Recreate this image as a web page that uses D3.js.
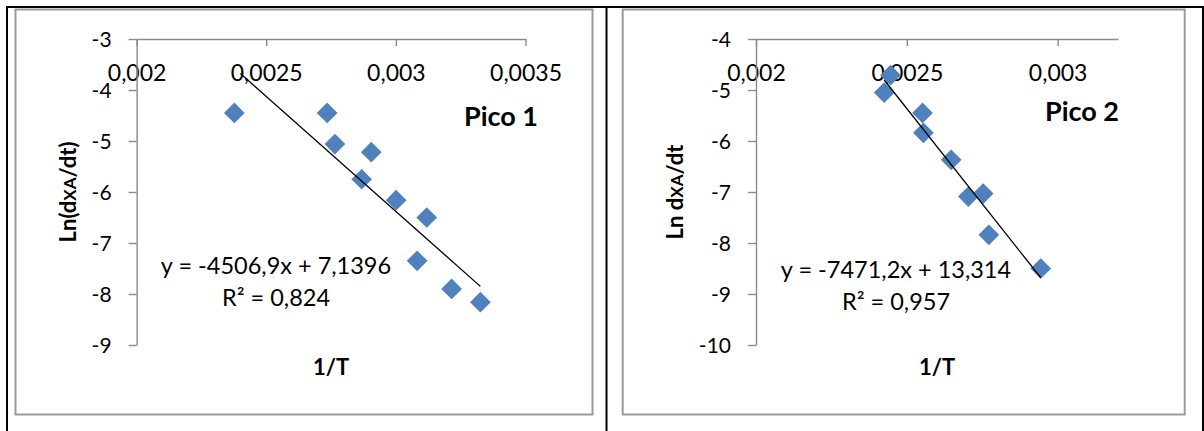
<!DOCTYPE html>
<html>
<head>
<meta charset="utf-8">
<script src="https://cdn.jsdelivr.net/npm/d3@7"></script>
<style>
  html, body { margin: 0; padding: 0; background: #fff; }
  svg { display: block; }
  text { font-family: Lato, "Open Sans", sans-serif; fill: #000; }
</style>
</head>
<body>
<svg id="chart" width="1204" height="431"></svg>
<script>
// ---- data: Pico 1 ----
const pico1X = [0.002377, 0.002735, 0.002765, 0.002905, 0.002868, 0.003001, 0.003119, 0.003082, 0.003215, 0.003326];
const pico1Y = [-4.45, -4.45, -5.06, -5.22, -5.75, -6.16, -6.50, -7.35, -7.90, -8.16];
const pico1Fit = [-4506.9, 7.1396];          // slope, intercept
const pico1FitRange = [0.0024, 0.003326];
const pico1Labels = ["y = -4506,9x + 7,1396", "R² = 0,824"];

// ---- data: Pico 2 ----
const pico2X = [0.002425, 0.002446, 0.002552, 0.002555, 0.002647, 0.002704, 0.002753, 0.002772, 0.002944];
const pico2Y = [-5.05, -4.71, -5.45, -5.84, -6.37, -7.09, -7.03, -7.84, -8.50];
const pico2Fit = [-7471.2, 13.314];
const pico2FitRange = [0.002425, 0.002944];
const pico2Labels = ["y = -7471,2x + 13,314", "R² = 0,957"];

// ---- axis ticks ----
const pico1XTicks = [0.002, 0.0025, 0.003, 0.0035];
const pico1XTickLabels = ["0,002", "0,0025", "0,003", "0,0035"];
const pico1YTicks = [-3, -4, -5, -6, -7, -8, -9];
const pico2XTicks = [0.002, 0.0025, 0.003];
const pico2XTickLabels = ["0,002", "0,0025", "0,003"];
const pico2YTicks = [-4, -5, -6, -7, -8, -9, -10];

const svg = d3.select("#chart");
const AXIS = "#8a8a8a";
const BLUE = "#4F81BD";

// table cell borders
const borders = svg.append("g").attr("stroke", "#000").attr("stroke-width", 2);
borders.append("line").attr("x1", 6).attr("x2", 1204).attr("y1", 7).attr("y2", 7);
[7, 606.5, 1203].forEach(x =>
  borders.append("line").attr("x1", x).attr("x2", x).attr("y1", 6).attr("y2", 431));

function drawPanel(cfg) {
  const g = svg.append("g");

  // chart frame
  g.append("rect")
    .attr("x", cfg.frame[0]).attr("y", cfg.frame[1])
    .attr("width", cfg.frame[2]).attr("height", cfg.frame[3])
    .attr("fill", "#fff").attr("stroke", "#9a9a9a").attr("stroke-width", 2);

  const x = d3.scaleLinear().domain(cfg.xDomain).range(cfg.xRange);
  const y = d3.scaleLinear().domain(cfg.yDomain).range(cfg.yRange);
  const top = cfg.yRange[0];

  // x axis along the top edge, ticks pointing into the plot
  const xAxis = g.append("g").attr("transform", `translate(0,${top})`)
    .call(d3.axisBottom(x).tickValues(cfg.xTicks)
      .tickFormat((d, i) => cfg.xTickLabels[i]).tickSizeInner(7).tickSizeOuter(0));
  xAxis.select(".domain").attr("stroke", AXIS).attr("stroke-width", 1.4);
  xAxis.selectAll(".tick line").attr("stroke", AXIS).attr("stroke-width", 1.4);
  xAxis.selectAll(".tick text")
    .attr("y", 42).attr("dy", 0)
    .style("font-size", "23px");

  // y axis
  const yAxis = g.append("g").attr("transform", `translate(${cfg.xRange[0]},0)`)
    .call(d3.axisLeft(y).tickValues(cfg.yTicks)
      .tickFormat(d => String(d)).tickSizeInner(8).tickSizeOuter(0));
  yAxis.select(".domain").attr("stroke", AXIS).attr("stroke-width", 1.4);
  yAxis.selectAll(".tick line").attr("stroke", AXIS).attr("stroke-width", 1.4);
  yAxis.selectAll(".tick text")
    .attr("x", -cfg.yLabelGap).attr("dy", "0.35em")
    .style("font-size", "21px");
  g.selectAll(".tick text").attr("fill", "#000").style("font-family", "Lato, sans-serif");

  // markers
  const diamond = d3.symbol(d3.symbolSquare, 215);
  g.append("g").selectAll("path")
    .data(cfg.xs.map((v, i) => [v, cfg.ys[i]]))
    .join("path")
    .attr("d", diamond)
    .attr("transform", d => `translate(${x(d[0])},${y(d[1])}) rotate(45)`)
    .attr("fill", BLUE);

  // linear trendline from the stated equation
  const fit = v => cfg.fit[0] * v + cfg.fit[1];
  g.append("line")
    .attr("x1", x(cfg.fitRange[0])).attr("y1", y(fit(cfg.fitRange[0])))
    .attr("x2", x(cfg.fitRange[1])).attr("y2", y(fit(cfg.fitRange[1])))
    .attr("stroke", "#000").attr("stroke-width", 1.3);

  // equation and R²
  g.append("text").attr("x", cfg.eqPos[0]).attr("y", cfg.eqPos[1])
    .attr("text-anchor", "middle").style("font-size", "23.5px").text(cfg.labels[0]);
  g.append("text").attr("x", cfg.eqPos[0]).attr("y", cfg.eqPos[1] + 32)
    .attr("text-anchor", "middle").style("font-size", "23.5px").text(cfg.labels[1]);

  // panel name
  g.append("text").attr("x", cfg.namePos[0]).attr("y", cfg.namePos[1])
    .attr("text-anchor", "middle").style("font-size", "27px").style("font-weight", "bold")
    .text(cfg.name);

  // axis titles
  g.append("text").attr("x", cfg.xTitlePos[0]).attr("y", cfg.xTitlePos[1])
    .attr("text-anchor", "middle").style("font-size", "22px").style("font-weight", "bold")
    .text("1/T");

  const yt = g.append("text")
    .attr("transform", `translate(${cfg.yTitlePos[0]},${cfg.yTitlePos[1]}) rotate(-90)`)
    .attr("text-anchor", "middle").style("font-size", "22px").style("font-weight", "bold");
  yt.append("tspan").text(cfg.yTitle[0]);
  yt.append("tspan").style("font-size", "17px").text("XA");
  yt.append("tspan").text(cfg.yTitle[1]);
}

drawPanel({
  frame: [15.5, 9.5, 577, 405],
  xDomain: [0.002, 0.0035], xRange: [136.6, 525.5],
  yDomain: [-3, -9], yRange: [39, 345],
  xTicks: pico1XTicks, xTickLabels: pico1XTickLabels, yTicks: pico1YTicks,
  yLabelGap: 25,
  xs: pico1X, ys: pico1Y, fit: pico1Fit, fitRange: pico1FitRange,
  labels: pico1Labels, eqPos: [276, 274],
  name: "Pico 1", namePos: [501, 126],
  xTitlePos: [331, 375],
  yTitle: ["Ln(d", "/dt)"], yTitlePos: [76, 192]
});

drawPanel({
  frame: [622.7, 9.5, 562, 405],
  xDomain: [0.002, 0.0032], xRange: [756, 1118],
  yDomain: [-4, -10], yRange: [39, 345],
  xTicks: pico2XTicks, xTickLabels: pico2XTickLabels, yTicks: pico2YTicks,
  yLabelGap: 25,
  xs: pico2X, ys: pico2Y, fit: pico2Fit, fitRange: pico2FitRange,
  labels: pico2Labels, eqPos: [896, 278],
  name: "Pico 2", namePos: [1082, 121],
  xTitlePos: [937, 375],
  yTitle: ["Ln d", "/dt"], yTitlePos: [683, 192]
});
</script>
</body>
</html>
